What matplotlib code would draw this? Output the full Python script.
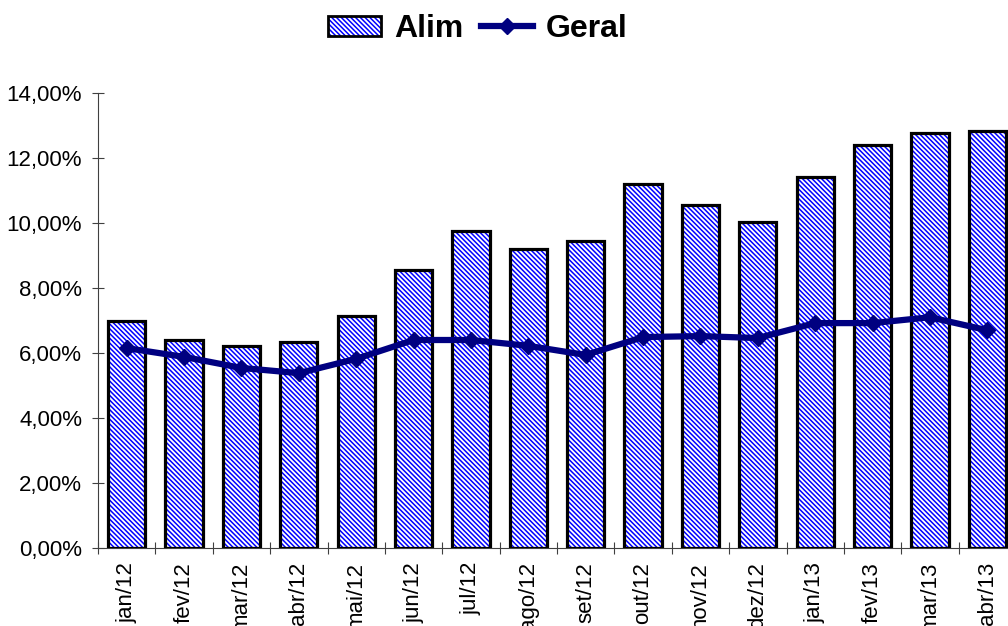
import matplotlib
matplotlib.use("Agg")
import matplotlib.pyplot as plt
from matplotlib.patches import Patch
from matplotlib.lines import Line2D
from matplotlib.legend_handler import HandlerTuple
from matplotlib.ticker import FuncFormatter

#chart values (percent)
months = ["jan/12", "fev/12", "mar/12", "abr/12", "mai/12", "jun/12", "jul/12", "ago/12",
          "set/12", "out/12", "nov/12", "dez/12", "jan/13", "fev/13", "mar/13", "abr/13"]
alim = [6.98, 6.40, 6.22, 6.34, 7.14, 8.55, 9.75, 9.20,
        9.45, 11.20, 10.55, 10.03, 11.42, 12.40, 12.77, 12.83]
geral = [6.15, 5.88, 5.54, 5.38, 5.82, 6.40, 6.40, 6.22,
         5.94, 6.49, 6.52, 6.46, 6.92, 6.92, 7.10, 6.70]

plt.rcParams['font.family'] = ['Liberation Sans', 'DejaVu Sans']
plt.rcParams['hatch.linewidth'] = 1.1

HATCH = "\\" * 7

fig = plt.figure(figsize=(10.08, 6.26), dpi=100)
ax = fig.add_axes([98 / 1008, 1 - 548 / 626, 918 / 1008, 455 / 626])

x = list(range(len(months)))

#hatched fill, then the black outline on top
ax.bar(x, alim, width=0.65, facecolor="white", edgecolor="#0000FF",
       hatch=HATCH, linewidth=0, zorder=2)
ax.bar(x, alim, width=0.65, fill=False, edgecolor="black", linewidth=2.3, zorder=3)

ax.plot(x, geral, color="#000080", linewidth=4.5, marker="D", markersize=8, zorder=4)

ax.set_xlim(-0.5, len(months) - 0.5)
ax.set_ylim(0, 14)
ax.set_yticks([0, 2, 4, 6, 8, 10, 12, 14])
ax.yaxis.set_major_formatter(FuncFormatter(lambda v, p: "{:.2f}%".format(v).replace(".", ",")))

#ticks at category boundaries, labels at centers
ax.set_xticks([i - 0.5 for i in range(len(months) + 1)])
ax.set_xticklabels([])
ax.set_xticks(x, minor=True)
ax.set_xticklabels(months, minor=True, rotation=90, fontsize=16)
ax.tick_params(axis="x", which="minor", length=0, pad=10)
ax.tick_params(axis="x", which="major", direction="inout", length=9, width=0.8, color="#404040")
ax.tick_params(axis="y", direction="inout", length=9, width=0.8, color="#404040", labelsize=16, pad=7)

for s in ["top", "right"]:
    ax.spines[s].set_visible(False)
for s in ["left", "bottom"]:
    ax.spines[s].set_color("#404040")
    ax.spines[s].set_linewidth(0.8)

#legend patch: blue hatch with a black border on top
alim_handle = (Patch(facecolor="white", edgecolor="#0000FF", hatch=HATCH, linewidth=0),
               Patch(fill=False, edgecolor="black", linewidth=2))
geral_handle = Line2D([], [], color="#000080", linewidth=4.5, marker="D", markersize=8)
fig.legend([alim_handle, geral_handle], ["Alim", "Geral"], loc="center",
           bbox_to_anchor=(478 / 1008, 1 - 29 / 626), ncol=2, frameon=False,
           prop={"weight": "bold", "size": 23},
           handler_map={tuple: HandlerTuple(ndivide=1)},
           handlelength=1.65, handleheight=0.6, handletextpad=0.4, columnspacing=0.55)

fig.savefig("out.png", dpi=100)
